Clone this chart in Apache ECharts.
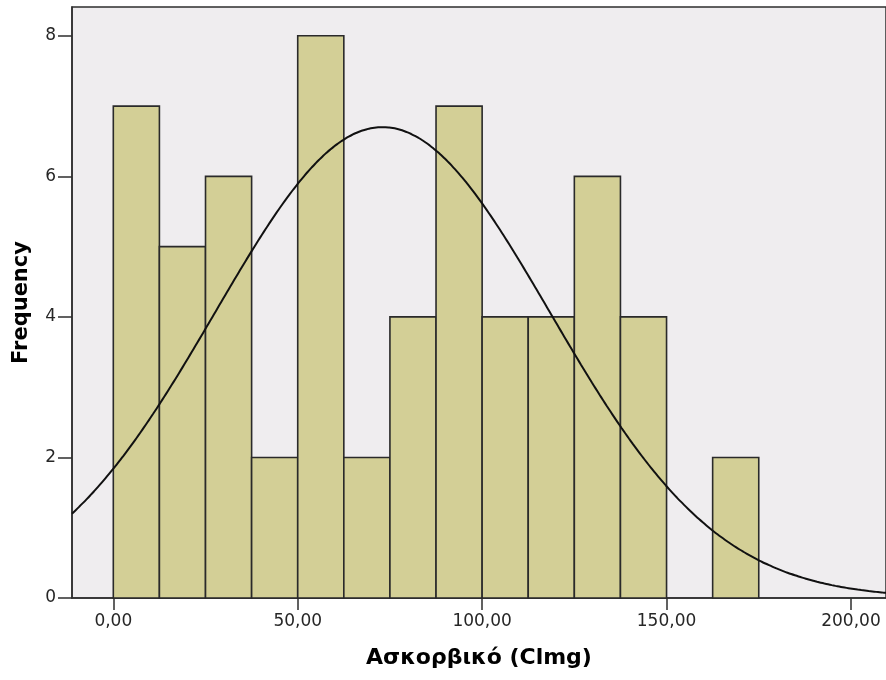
<!DOCTYPE html>
<html>
<head>
<meta charset="utf-8">
<script src="https://cdn.jsdelivr.net/npm/echarts@6/dist/echarts.min.js"></script>
<style>
  html, body { margin: 0; padding: 0; background: #ffffff; }
  #chart { width: 886px; height: 680px; }
</style>
</head>
<body>
<div id="chart"></div>
<script>
// Histogram bins of ascorbic acid (width 12.5) and their counts
const binStarts = [0, 12.5, 25, 37.5, 50, 62.5, 75, 87.5, 100, 112.5, 125, 137.5, 150, 162.5];
const binWidth = 12.5;
const counts = [7, 5, 6, 2, 8, 2, 4, 7, 4, 4, 6, 4, 0, 2];

// Fitted normal curve parameters
const fitMean = 73.0;
const fitStdDev = 45.4;

// Axis tick values
const xTicks = [0, 50, 100, 150, 200];
const yTicks = [0, 2, 4, 6, 8];

const xMin = -11.2, xMax = 209.5;
const yMax = 8.41;

const total = counts.reduce((a, b) => a + b, 0);

// Expected frequency per bin under the fitted normal distribution
function normalFreq(x) {
  const z = (x - fitMean) / fitStdDev;
  return total * binWidth * Math.exp(-0.5 * z * z) / (fitStdDev * Math.sqrt(2 * Math.PI));
}

const curve = [];
for (let x = xMin; x <= xMax + 0.5; x += 1) {
  curve.push([x, normalFreq(x)]);
}

const barData = binStarts.map((s, i) => [s, s + binWidth, counts[i]]).filter(d => d[2] > 0);

const chart = echarts.init(document.getElementById('chart'), null, { renderer: 'canvas' });

chart.setOption({
  animation: false,
  backgroundColor: '#ffffff',
  grid: {
    left: 72, top: 7, right: -2, bottom: 82,
    show: true,
    backgroundColor: '#efedef',
    borderColor: '#2e2e2e',
    borderWidth: 1.5
  },
  xAxis: {
    type: 'value',
    min: xMin, max: xMax,
    name: 'Ασκορβικό (Clmg)',
    nameLocation: 'middle',
    nameGap: 49,
    nameTextStyle: { fontFamily: 'DejaVu Sans', fontWeight: 'bold', fontSize: 22, color: '#000000' },
    splitLine: { show: false },
    axisLine: { show: true, onZero: false, lineStyle: { color: '#2e2e2e', width: 1.5 } },
    axisTick: { show: true, length: 12, customValues: xTicks, lineStyle: { color: '#2e2e2e', width: 1.5 } },
    axisLabel: {
      customValues: xTicks,
      margin: 15,
      fontFamily: 'DejaVu Sans', fontSize: 17, color: '#262626',
      formatter: v => v.toFixed(2).replace('.', ',')
    }
  },
  yAxis: {
    type: 'value',
    min: 0, max: yMax,
    name: 'Frequency',
    nameLocation: 'middle',
    nameGap: 40,
    nameRotate: 90,
    nameTextStyle: { fontFamily: 'DejaVu Sans', fontWeight: 'bold', fontSize: 21, color: '#000000' },
    splitLine: { show: false },
    axisLine: { show: true, onZero: false, lineStyle: { color: '#2e2e2e', width: 1.5 } },
    axisTick: { show: true, length: 14, customValues: yTicks, lineStyle: { color: '#2e2e2e', width: 1.5 } },
    axisLabel: {
      customValues: yTicks,
      margin: 16,
      fontFamily: 'DejaVu Sans', fontSize: 17, color: '#262626'
    }
  },
  series: [
    {
      type: 'custom',
      data: barData,
      encode: { x: [0, 1], y: 2 },
      renderItem: function (params, api) {
        const p0 = api.coord([api.value(0), api.value(2)]);
        const p1 = api.coord([api.value(1), 0]);
        return {
          type: 'rect',
          shape: { x: p0[0], y: p0[1], width: p1[0] - p0[0], height: p1[1] - p0[1] },
          style: { fill: '#d3cf96', stroke: '#2a2a2a', lineWidth: 1.6 }
        };
      },
      z: 2
    },
    {
      type: 'line',
      data: curve,
      smooth: true,
      showSymbol: false,
      clip: true,
      lineStyle: { color: '#111111', width: 2 },
      z: 3
    }
  ]
});
</script>
</body>
</html>
